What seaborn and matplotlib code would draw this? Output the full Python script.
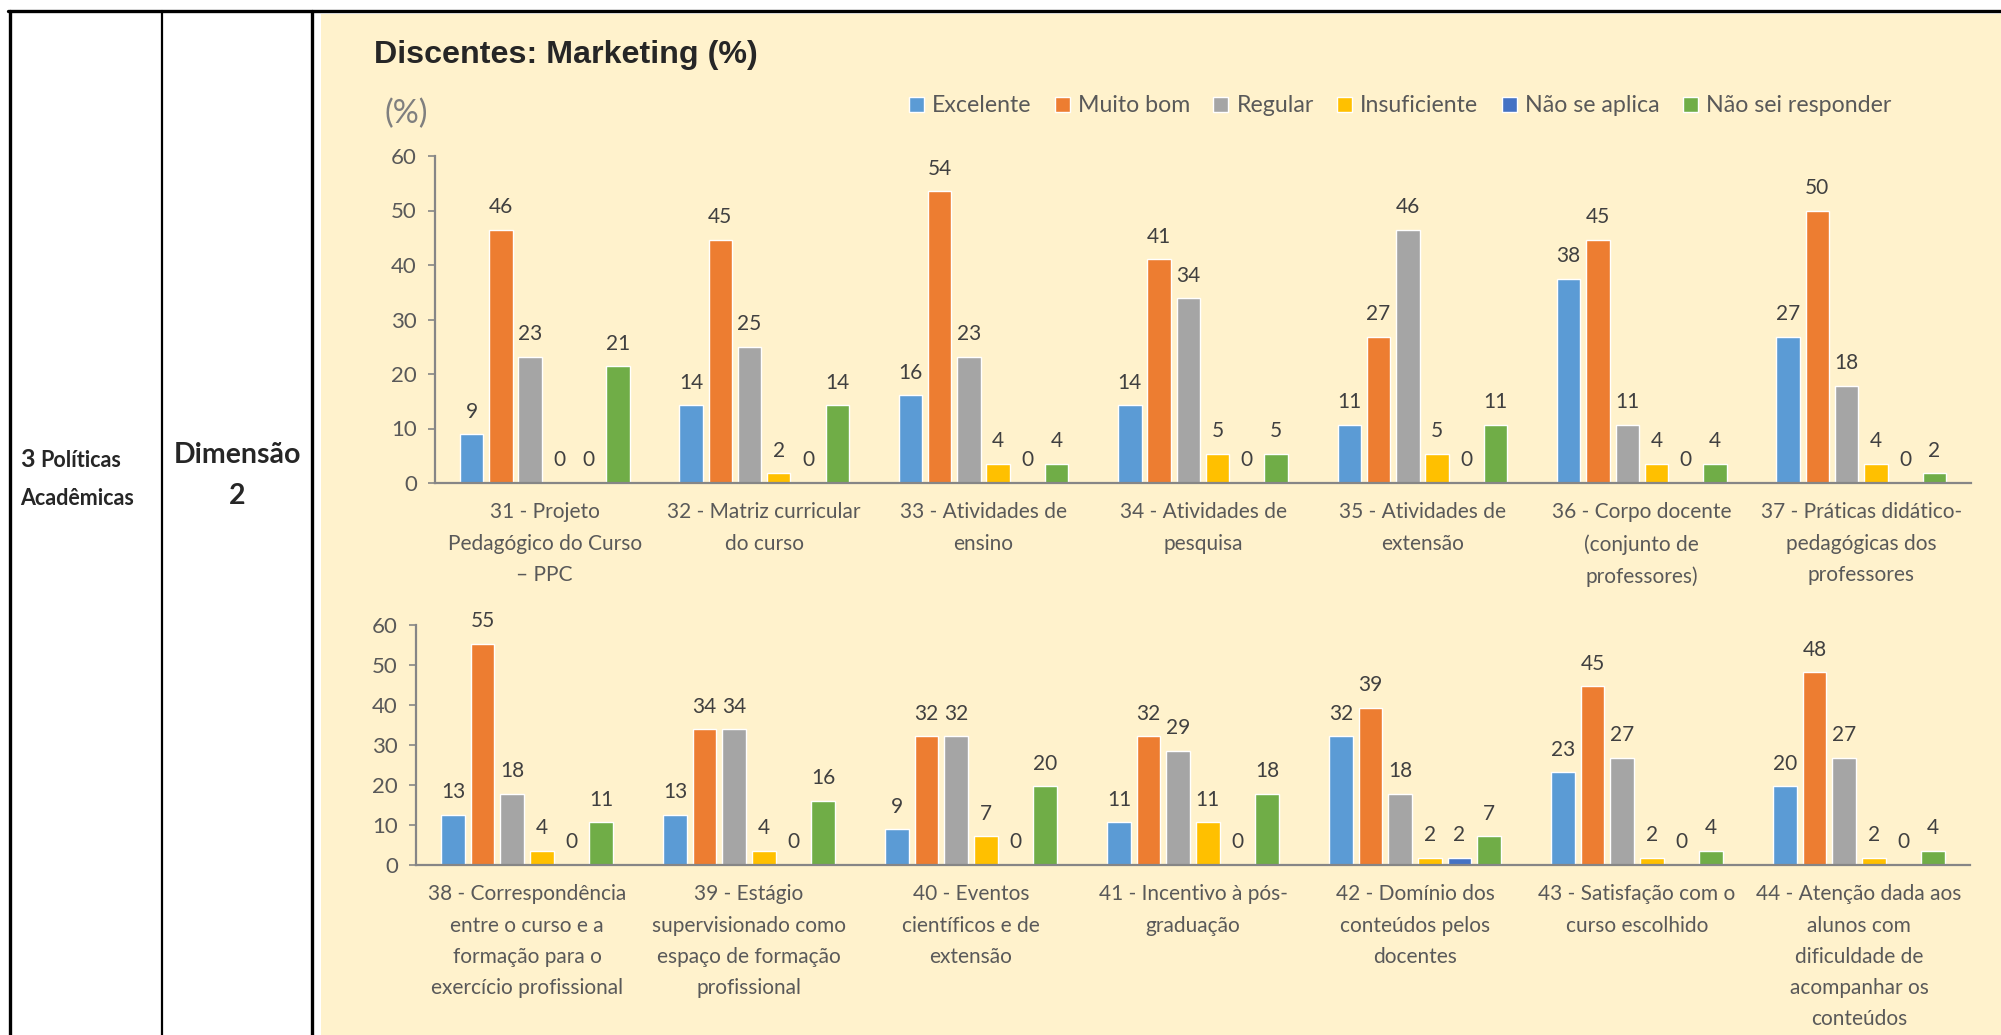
import matplotlib
matplotlib.use("Agg")
import matplotlib.pyplot as plt
from matplotlib.lines import Line2D
from matplotlib.patches import Rectangle
import seaborn as sns
import pandas as pd

# respostas
respostas = ["Excelente", "Muito bom", "Regular", "Insuficiente",
             "Não se aplica", "Não sei responder"]
cores = ["#5B9BD5", "#ED7D31", "#A5A5A5", "#FFC000", "#4472C4", "#70AD47"]

# itens 31-37
itens_top = ["31 - Projeto\nPedagógico do Curso\n– PPC",
             "32 - Matriz curricular\ndo curso",
             "33 - Atividades de\nensino",
             "34 - Atividades de\npesquisa",
             "35 - Atividades de\nextensão",
             "36 - Corpo docente\n(conjunto de\nprofessores)",
             "37 - Práticas didático-\npedagógicas dos\nprofessores"]
excelente_top = [8.93, 14.29, 16.07, 14.29, 10.71, 37.50, 26.79]
muito_bom_top = [46.43, 44.64, 53.57, 41.07, 26.79, 44.64, 50.00]
regular_top = [23.21, 25.00, 23.21, 33.93, 46.43, 10.71, 17.86]
insuficiente_top = [0.0, 1.79, 3.57, 5.36, 5.36, 3.57, 3.57]
nao_aplica_top = [0.0, 0.0, 0.0, 0.0, 0.0, 0.0, 0.0]
nao_sei_top = [21.43, 14.29, 3.57, 5.36, 10.71, 3.57, 1.79]

# itens 38-44
itens_bot = ["38 - Correspondência\nentre o curso e a\nformação para o\nexercício profissional",
             "39 - Estágio\nsupervisionado como\nespaço de formação\nprofissional",
             "40 - Eventos\ncientíficos e de\nextensão",
             "41 - Incentivo à pós-\ngraduação",
             "42 - Domínio dos\nconteúdos pelos\ndocentes",
             "43 - Satisfação com o\ncurso escolhido",
             "44 - Atenção dada aos\nalunos com\ndificuldade de\nacompanhar os\nconteúdos"]
excelente_bot = [12.50, 12.50, 8.93, 10.71, 32.14, 23.21, 19.64]
muito_bom_bot = [55.36, 33.93, 32.14, 32.14, 39.29, 44.64, 48.21]
regular_bot = [17.86, 33.93, 32.14, 28.57, 17.86, 26.79, 26.79]
insuficiente_bot = [3.57, 3.57, 7.14, 10.71, 1.79, 1.79, 1.79]
nao_aplica_bot = [0.0, 0.0, 0.0, 0.0, 1.79, 0.0, 0.0]
nao_sei_bot = [10.71, 16.07, 19.64, 17.86, 7.14, 3.57, 3.57]

yticks = [0, 10, 20, 30, 40, 50, 60]


def long_df(itens, series):
    rows = []
    for resp, vals in zip(respostas, series):
        for it, v in zip(itens, vals):
            rows.append({"item": it, "resp": resp, "pct": v})
    return pd.DataFrame(rows)


df_top = long_df(itens_top, [excelente_top, muito_bom_top, regular_top,
                             insuficiente_top, nao_aplica_top, nao_sei_top])
df_bot = long_df(itens_bot, [excelente_bot, muito_bom_bot, regular_bot,
                             insuficiente_bot, nao_aplica_bot, nao_sei_bot])

sns.set_theme(style="ticks")
plt.rcParams["font.family"] = ["Lato", "DejaVu Sans"]

W, H = 2001, 1035
fig = plt.figure(figsize=(W / 100, H / 100), dpi=100)
fig.patch.set_facecolor("white")

# fundo do painel e bordas da tabela
fig.add_artist(Rectangle((321 / W, 0), 1 - 321 / W, 1 - 14 / H,
                         transform=fig.transFigure, facecolor="#FFF2CC",
                         edgecolor="none", zorder=0))
fig.add_artist(Line2D([8 / W, 1], [1 - 11 / H, 1 - 11 / H],
                      transform=fig.transFigure, color="black", lw=2.4))
for xv, lw in [(10, 2.4), (162, 1.6), (312, 2.4)]:
    fig.add_artist(Line2D([xv / W, xv / W], [0, 1 - 11 / H],
                          transform=fig.transFigure, color="black", lw=lw))

fig.text(20 / W, 1 - 467 / H, "3", fontsize=18, fontweight="bold",
         va="baseline", ha="left")
fig.text(40 / W, 1 - 467 / H, "Políticas", fontsize=15.5, fontweight="bold",
         va="baseline", ha="left")
fig.text(20 / W, 1 - 505 / H, "Acadêmicas", fontsize=15.5, fontweight="bold",
         va="baseline", ha="left")
fig.text(237 / W, 1 - 463 / H, "Dimensão", fontsize=20.5, fontweight="bold",
         va="baseline", ha="center")
fig.text(237 / W, 1 - 504 / H, "2", fontsize=20.5, fontweight="bold",
         va="baseline", ha="center")

fig.text(374 / W, 1 - 63 / H, "Discentes: Marketing (%)", fontsize=23.2,
         fontweight="bold", family="Liberation Sans", va="baseline")
fig.text(384 / W, 1 - 114 / H, "(%)", fontsize=23.5, color="#7F7F7F",
         va="center")

ax_top = fig.add_axes([435 / W, 1 - 483 / H, (1971 - 435) / W, (483 - 156) / H])
ax_bot = fig.add_axes([416 / W, 1 - 865 / H, (1970 - 416) / W, (865 - 625) / H])

for ax, df in [(ax_top, df_top), (ax_bot, df_bot)]:
    sns.barplot(data=df, x="item", y="pct", hue="resp", hue_order=respostas,
                palette=cores, width=0.8, gap=0.2, errorbar=None,
                saturation=1, ax=ax)
    ax.set_facecolor("none")
    ax.set_ylim(0, 60)
    ax.set_yticks(yticks)
    ax.set_xlabel("")
    ax.set_ylabel("")
    for c in ax.containers:
        ax.bar_label(c, labels=[f"{int(v + 0.5)}" for v in c.datavalues],
                     padding=9, fontsize=15, color="#404040")
    sns.despine(ax=ax)
    for s in ["left", "bottom"]:
        ax.spines[s].set_color("#868686")
        ax.spines[s].set_linewidth(1.6)
    ax.tick_params(axis="y", colors="#868686", labelcolor="#595959",
                   labelsize=16, length=5, width=1.2, pad=8)
    ax.tick_params(axis="x", length=0, labelcolor="#595959", labelsize=15,
                   pad=14)
    for t in ax.get_xticklabels():
        t.set_linespacing(1.7)

handles, labels = ax_top.get_legend_handles_labels()
ax_top.get_legend().remove()
ax_bot.get_legend().remove()
fig.legend(handles, labels, loc="center", bbox_to_anchor=(1400 / W, 1 - 106 / H),
           ncol=6, frameon=False, fontsize=16.7, handlelength=0.65,
           handleheight=0.65, handletextpad=0.35, columnspacing=1.0,
           labelcolor="#595959")

fig.savefig("out.png", dpi=100)
